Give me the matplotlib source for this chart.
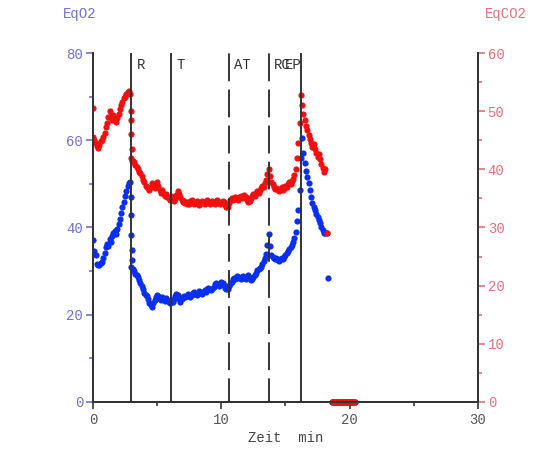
import numpy as np
import matplotlib
matplotlib.use("Agg")
import matplotlib.pyplot as plt
from matplotlib import transforms

# ---- data -----------------------------------------------------------------
# regular 0.1-min samples from 0.0 to 18.2 min
t_grid = np.round(np.arange(0.0, 18.25, 0.1), 2)

eqo2 = [
    37.2, 34.5, 33.8, 31.6, 31.3, 31.5, 31.9, 32.2, 33.0, 34.2,
    35.5, 36.2, 35.8, 37.3, 36.6, 38.0, 38.8, 39.2, 38.4, 39.6,
    40.8, 42.0, 43.3, 44.6, 45.8, 47.2, 48.3, 49.4, 50.1, 50.5,
    31.0, 30.6, 30.0, 29.4, 29.0, 28.6, 28.0, 27.2, 26.6, 25.8,
    25.0, 24.5, 24.2, 23.5, 22.8, 22.3, 21.8, 22.6, 23.4, 24.0,
    24.6, 24.2, 23.6, 23.4, 24.0, 23.6, 23.2, 23.8, 23.3, 22.9,
    22.8, 23.4, 23.0, 23.6, 24.2, 24.8, 24.5, 23.6, 23.0, 23.5,
    24.0, 24.4, 24.0, 24.2, 24.8, 24.4, 24.0, 24.6, 24.9, 25.3,
    24.8, 24.6, 25.0, 25.4, 25.0, 24.8, 25.2, 25.6, 25.3, 25.8,
    26.2, 26.0, 25.6, 25.9, 26.4, 27.0, 27.3, 27.0, 26.5, 26.9,
    27.4, 27.2, 26.8, 26.2, 25.8, 25.9, 26.5, 27.0, 27.6, 28.2,
    28.5, 28.2, 28.8, 28.4, 28.6, 28.3, 28.7, 28.9, 28.5, 28.2,
    28.6, 29.0, 28.4, 28.0, 28.3, 28.6, 29.2, 29.6, 30.2, 30.5,
    30.8, 31.0, 31.6, 32.4, 33.0, 34.0, 36.0, 38.5, 35.8, 33.8,
    33.2, 33.0, 32.8, 33.1, 32.6, 32.4, 32.7, 33.0, 32.8, 33.3,
    33.8, 34.2, 34.6, 35.0, 35.6, 36.0, 36.6, 37.5, 39.0, 41.5,
    44.0, 48.5, 56.0, 60.5, 57.0, 54.8, 53.0, 51.6, 50.2, 48.6,
    47.0, 45.6, 44.6, 44.0, 43.2, 42.4, 41.8, 41.0, 40.0, 39.4,
    38.8, 38.7, 38.7,
]

eqco2 = [
    45.5, 45.0, 44.6, 44.0, 43.6, 44.2, 44.8, 45.0, 45.6, 46.3,
    47.2, 48.0, 49.0, 50.0, 49.2, 48.5, 49.3, 48.8, 48.2, 48.8,
    49.5, 50.3, 51.0, 51.6, 52.2, 52.5, 53.0, 53.3, 53.4, 53.0,
    42.0, 41.5, 41.2, 40.8, 40.4, 40.0, 39.6, 39.4, 38.8, 38.2,
    37.8, 37.2, 37.0, 36.8, 36.4, 37.0, 37.6, 37.2, 36.8, 37.5,
    37.8, 37.2, 36.5, 36.0, 36.4, 35.8, 35.4, 35.8, 35.2, 35.0,
    34.8, 35.4, 35.0, 34.6, 34.9, 35.6, 36.2, 35.8, 35.2, 34.8,
    34.4, 34.6, 34.2, 34.0, 34.4, 34.1, 34.6, 34.8, 34.3, 34.0,
    34.2, 34.5, 34.1, 33.9, 34.3, 34.6, 34.2, 34.0, 34.4, 34.7,
    34.3, 34.0, 34.3, 34.6, 34.4, 34.1, 34.5, 34.8, 34.4, 34.0,
    34.2, 34.6, 34.3, 33.9, 33.5, 33.6, 34.2, 34.8, 35.0, 34.7,
    35.0, 35.3, 35.0, 34.8, 35.2, 35.4, 35.0, 35.3, 35.6, 35.2,
    34.8, 34.4, 34.6, 35.1, 35.4, 35.8, 35.5, 35.9, 36.2, 36.0,
    36.4, 36.8, 37.2, 37.0, 37.6, 38.2, 39.2, 40.0, 38.8, 37.8,
    37.4, 37.0, 36.6, 36.8, 36.5, 36.2, 36.6, 36.9, 36.4, 36.8,
    37.2, 37.0, 37.5, 37.8, 37.4, 38.0, 38.4, 39.0, 40.0, 42.0,
    44.5, 48.0, 52.8, 51.0, 49.5, 48.4, 47.5, 46.8, 45.9, 45.2,
    44.6, 43.8, 44.4, 43.5, 42.8, 42.2, 42.6, 41.8, 41.0, 40.2,
    39.5, 40.0, 29.0,
]

# extra breaths around the steep drop at R and the last samples
o2_extra_t = [2.97, 2.98, 2.99, 3.01, 3.02, 18.3]
o2_extra = [47.0, 42.8, 38.3, 34.8, 32.5, 28.4]
co2_extra_t = [0.0, 2.97, 2.98, 2.99, 3.01, 3.02]
co2_extra = [50.5, 50.0, 48.5, 46.0, 43.5, 41.5]

# signal lost after the test: values recorded as zero
zero_t = [18.6, 18.7, 18.8, 18.9, 19.0, 19.1, 19.2, 19.3, 19.4, 19.5,
          19.6, 19.7, 19.8, 19.9, 20.0, 20.1, 20.2, 20.3, 20.4]
zero_vals = [0.0] * len(zero_t)

# event markers (min)
event_names = ["R", "T", "AT", "RC", "EP"]
event_times = [3.0, 6.1, 10.6, 13.7, 16.2]
event_dashed = [False, False, True, True, False]

# ---- figure -----------------------------------------------------------------
MONO = ["Liberation Mono", "DejaVu Sans Mono"]
BLUE = "#0b2ff0"
RED = "#f01010"
BLUE_TXT = "#6f6fcf"
RED_TXT = "#e0707e"
AXC = "#333333"

fig = plt.figure(figsize=(5.5, 4.53), dpi=100)
ax = fig.add_axes([0.169, 0.1126, 0.7, 0.7704])
ax2 = ax.twinx()

ms = 20
ax.scatter(t_grid, eqo2, s=ms, color=BLUE, lw=0, zorder=2)
ax.scatter(o2_extra_t, o2_extra, s=ms, color=BLUE, lw=0, zorder=2)
ax.scatter(zero_t, zero_vals, s=ms, color=BLUE, lw=0, zorder=2, clip_on=False)
ax2.scatter(t_grid, eqco2, s=ms, color=RED, lw=0, zorder=2)
ax2.scatter(co2_extra_t, co2_extra, s=ms, color=RED, lw=0, zorder=2)
ax2.scatter(zero_t, zero_vals, s=ms, color=RED, lw=0, zorder=2, clip_on=False)

ax.set_xlim(0, 30)
ax.set_ylim(0, 80)
ax2.set_ylim(0, 60)

# vertical event lines and their labels
LW = 1.4
for name, tx, dashed in zip(event_names, event_times, event_dashed):
    ls = (3 / LW, (20 / LW, 6 / LW)) if dashed else "-"
    ax2.axvline(tx, color=AXC, lw=LW, ls=ls, zorder=3)
    trans = ax2.get_xaxis_transform()
    if name == "EP":
        off = transforms.offset_copy(trans, fig=fig, x=1, y=0, units="dots")
        ax2.text(tx, 0.985, name, transform=off, ha="right", va="top",
                 family=MONO, fontsize=10, color=AXC, zorder=4)
    else:
        off = transforms.offset_copy(trans, fig=fig, x=5, y=0, units="dots")
        ax2.text(tx, 0.985, name, transform=off, ha="left", va="top",
                 family=MONO, fontsize=10, color=AXC, zorder=4)

# spines
for a in (ax, ax2):
    a.spines["top"].set_visible(False)
    for s in ("left", "right", "bottom"):
        a.spines[s].set_color(AXC)
        a.spines[s].set_linewidth(1.4)

ax.set_xticks([0, 10, 20, 30])
ax.set_xticks([5, 15, 25], minor=True)
ax.set_yticks([0, 20, 40, 60, 80])
ax.set_yticks([10, 30, 50, 70], minor=True)
ax2.set_yticks([0, 10, 20, 30, 40, 50, 60])
ax2.set_yticks([5, 15, 25, 35, 45, 55], minor=True)

ax.tick_params(axis="x", which="major", length=5, width=1.2, color=AXC,
               labelcolor="#555555", labelsize=10, pad=3)
ax.tick_params(axis="x", which="minor", length=3, width=1.2, color=AXC)
ax.tick_params(axis="y", which="major", length=5, width=1.2, color=BLUE_TXT,
               labelcolor=BLUE_TXT, labelsize=10, pad=2)
ax.tick_params(axis="y", which="minor", length=3, width=1.2, color=BLUE_TXT)
ax2.tick_params(axis="y", which="major", length=5, width=1.2, color=RED_TXT,
                labelcolor=RED_TXT, labelsize=10, pad=2)
ax2.tick_params(axis="y", which="minor", length=3, width=1.2, color=RED_TXT)

for lab in ax.get_xticklabels() + ax.get_yticklabels() + ax2.get_yticklabels():
    lab.set_family(MONO)

ax.set_xlabel("Zeit  min", family=MONO, fontsize=10, color="#444444", labelpad=3)

fig.text(0.144, 0.968, "EqO2", family=MONO, fontsize=10, color=BLUE_TXT,
         ha="center", va="center")
fig.text(0.92, 0.968, "EqCO2", family=MONO, fontsize=10, color=RED_TXT,
         ha="center", va="center")

fig.savefig("out.png", dpi=100, facecolor="white")
